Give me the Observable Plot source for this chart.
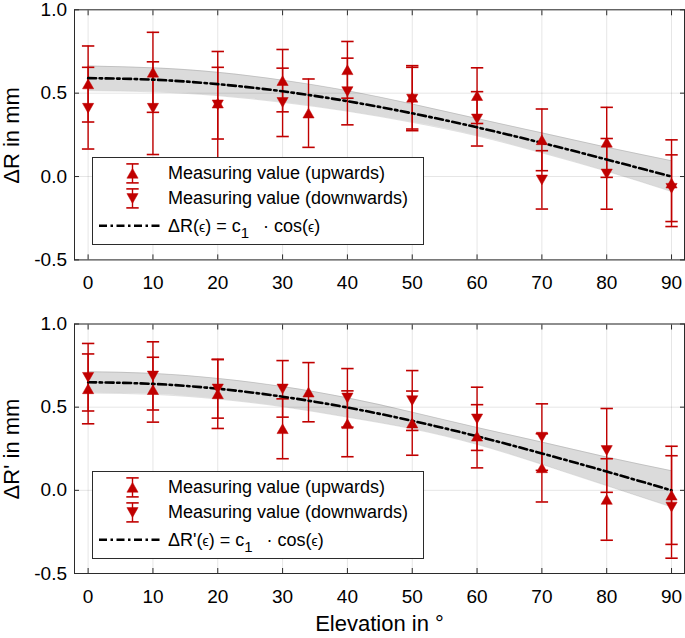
<!DOCTYPE html>
<html>
<head>
<meta charset="utf-8">
<script src="https://cdn.jsdelivr.net/npm/d3@7"></script>
<script src="https://cdn.jsdelivr.net/npm/@observablehq/plot@0.6"></script>
<style>
  body { margin: 0; background: #fff; }
  #chart { position: relative; width: 685px; height: 638px; font-family: "Liberation Sans", Arial, Helvetica, sans-serif; color: #000; }
  #chart > svg { display: block; }
  .legend { position: absolute; background: #fff; border: 1px solid #2b2b2b; box-sizing: border-box; font-size: 18px; }
  .legend .txt { position: absolute; line-height: 20px; white-space: nowrap; }
  .legend svg { position: absolute; left: 0; top: 0; overflow: visible; }
  .eps { font-size: 14px; }
  .sub { font-size: 15px; position: relative; top: 6px; margin-right: 9px; }
  .overlay { position: absolute; left: 0; top: 0; pointer-events: none; }
</style>
</head>
<body>
<div id="chart"></div>
<script>
// ---------- data ----------
const ticksX = [0, 10, 20, 30, 40, 50, 60, 70, 80, 90];
const ticksY = [-0.5, 0, 0.5, 1.0];

const upX   = [0, 10, 20, 30, 34, 40, 50, 60, 70, 80, 90];
const downX = [0, 10, 20, 30, 40, 50, 60, 70, 80, 90];
const fitX  = [0, 10, 20, 30, 40, 50, 60, 70, 80, 90];

// Panel 1: ΔR
const r1UpY     = [0.555, 0.625, 0.44, 0.575, 0.38, 0.64, 0.475, 0.485, 0.22, 0.205, -0.04];
const r1UpErr   = [0.228, 0.24, 0.215, 0.187, 0.205, 0.17, 0.19, 0.167, 0.185, 0.21, 0.26];
const r1DownY   = [0.41, 0.41, 0.43, 0.445, 0.51, 0.465, 0.346, -0.02, 0.016, -0.07];
const r1DownErr = [0.245, 0.278, 0.32, 0.205, 0.2, 0.19, 0.163, 0.175, 0.212, 0.2];
const r1Fit     = [0.59, 0.581, 0.554, 0.511, 0.452, 0.379, 0.295, 0.202, 0.102, 0.0];
const r1BandHi  = [0.663, 0.652, 0.625, 0.578, 0.515, 0.435, 0.348, 0.262, 0.176, 0.095];
const r1BandLo  = [0.515, 0.508, 0.485, 0.445, 0.392, 0.325, 0.244, 0.142, 0.032, -0.09];

// Panel 2: ΔR'
const r2UpY     = [0.61, 0.605, 0.58, 0.37, 0.59, 0.40, 0.404, 0.325, 0.135, -0.055, -0.03];
const r2UpErr   = [0.21, 0.195, 0.208, 0.18, 0.178, 0.198, 0.193, 0.19, 0.205, 0.245, 0.295];
const r2DownY   = [0.68, 0.688, 0.61, 0.61, 0.556, 0.54, 0.43, 0.32, 0.24, -0.1];
const r2DownErr = [0.203, 0.205, 0.176, 0.17, 0.176, 0.18, 0.19, 0.2, 0.252, 0.308];
const r2Fit     = [0.65, 0.640, 0.611, 0.563, 0.498, 0.418, 0.325, 0.222, 0.113, 0.0];
const r2BandHi  = [0.713, 0.703, 0.673, 0.624, 0.556, 0.470, 0.378, 0.290, 0.200, 0.118];
const r2BandLo  = [0.585, 0.577, 0.549, 0.503, 0.44, 0.37, 0.276, 0.156, 0.028, -0.10];

const legendUp = "Measuring value (upwards)";
const legendDown = "Measuring value (downwards)";
const xLabel = "Elevation in °";
const yLabel1 = "ΔR in mm";
const yLabel2 = "ΔR' in mm";

// ---------- styles ----------
const red = "#c00000";
const fontFamily = '"Liberation Sans", Arial, Helvetica, sans-serif';
const dash = "8,3.5,2.5,3.5";

const triUp = { draw(ctx) { ctx.moveTo(0, -5); ctx.lineTo(5.6, 4.8); ctx.lineTo(-5.6, 4.8); ctx.closePath(); } };
const triDown = { draw(ctx) { ctx.moveTo(0, 5); ctx.lineTo(5.6, -4.8); ctx.lineTo(-5.6, -4.8); ctx.closePath(); } };
const cap = { draw(ctx) { ctx.moveTo(-6.2, 0); ctx.lineTo(6.2, 0); } };

function rows(xs, ys, es) { return xs.map((x, i) => ({ x, y: ys[i], e: es[i] })); }

function errorMarks(data) {
  return [
    Plot.ruleX(data, { x: "x", y1: d => d.y - d.e, y2: d => d.y + d.e, stroke: red, strokeWidth: 1.4 }),
    Plot.dot(data, { x: "x", y: d => d.y + d.e, symbol: cap, fill: "none", stroke: red, strokeWidth: 1.6 }),
    Plot.dot(data, { x: "x", y: d => d.y - d.e, symbol: cap, fill: "none", stroke: red, strokeWidth: 1.6 })
  ];
}

function panel({ upY, upErr, downY, downErr, fit, lo, hi, height, marginTop, marginBottom, withXLabel }) {
  const up = rows(upX, upY, upErr);
  const down = rows(downX, downY, downErr);
  const fitRows = fitX.map((x, i) => ({ x, y: fit[i], lo: lo[i], hi: hi[i] }));
  const marks = [
    Plot.gridX(ticksX, { stroke: "#000", strokeOpacity: 0.1 }),
    Plot.gridY(ticksY, { stroke: "#000", strokeOpacity: 0.1 }),
    Plot.areaY(fitRows, { x: "x", y1: "lo", y2: "hi", fill: "#000", fillOpacity: 0.14, curve: "natural" }),
    Plot.lineY(fitRows, { x: "x", y: "hi", stroke: "#000", strokeOpacity: 0.12, strokeWidth: 1, curve: "natural" }),
    Plot.lineY(fitRows, { x: "x", y: "lo", stroke: "#000", strokeOpacity: 0.12, strokeWidth: 1, curve: "natural" }),
    ...errorMarks(up),
    ...errorMarks(down),
    Plot.lineY(fitRows, { x: "x", y: "y", stroke: "#000", strokeWidth: 2.6, strokeDasharray: dash, curve: "natural" }),
    Plot.dot(up, { x: "x", y: "y", symbol: triUp, fill: red, stroke: red, strokeWidth: 0.5 }),
    Plot.dot(down, { x: "x", y: "y", symbol: triDown, fill: red, stroke: red, strokeWidth: 0.5 }),
    Plot.frame({ stroke: "#2b2b2b" }),
    Plot.axisX(ticksX, { anchor: "bottom", tickSize: 0, tickPadding: 15.5, fontSize: 19, label: null, tickFormat: d => String(d) }),
    Plot.axisX(ticksX, { anchor: "bottom", tickSize: -5, tickFormat: () => "", label: null, stroke: "#2b2b2b" }),
    Plot.axisX(ticksX, { anchor: "top", tickSize: -5, tickFormat: () => "", label: null, stroke: "#2b2b2b" }),
    Plot.axisY(ticksY, { anchor: "left", tickSize: 0, tickPadding: 7.5, fontSize: 19, label: null, tickFormat: d => d.toFixed(1) }),
    Plot.axisY(ticksY, { anchor: "left", tickSize: -5, tickFormat: () => "", label: null, stroke: "#2b2b2b" }),
    Plot.axisY(ticksY, { anchor: "right", tickSize: -5, tickFormat: () => "", label: null, stroke: "#2b2b2b" })
  ];
  if (withXLabel) {
    marks.push(Plot.text([xLabel], { frameAnchor: "bottom", dy: 50, fontSize: 22, lineAnchor: "middle", text: d => d }));
  }
  return Plot.plot({
    width: 685,
    height,
    marginLeft: 74,
    marginRight: 1,
    marginTop,
    marginBottom,
    x: { domain: [-2.1, 92] },
    y: { domain: [-0.5, 1.0] },
    style: { fontFamily, fontSize: "19px", background: "#fff", color: "#000", overflow: "visible" },
    marks
  });
}

const chart = document.getElementById("chart");
chart.appendChild(panel({
  upY: r1UpY, upErr: r1UpErr, downY: r1DownY, downErr: r1DownErr,
  fit: r1Fit, lo: r1BandLo, hi: r1BandHi,
  height: 300, marginTop: 9.3, marginBottom: 40.6, withXLabel: false
}));
chart.appendChild(panel({
  upY: r2UpY, upErr: r2UpErr, downY: r2DownY, downErr: r2DownErr,
  fit: r2Fit, lo: r2BandLo, hi: r2BandHi,
  height: 338, marginTop: 23.5, marginBottom: 65, withXLabel: true
}));

// ---------- y axis titles (overlay svg) ----------
const ov = d3.select(chart).append("svg").attr("class", "overlay").attr("width", 40).attr("height", 638);
[[yLabel1, 135.5], [yLabel2, 449]].forEach(([t, cy]) => {
  ov.append("text")
    .attr("transform", `translate(19,${cy}) rotate(-90)`)
    .attr("text-anchor", "middle")
    .attr("font-family", fontFamily)
    .attr("font-size", 22)
    .text(t);
});

// ---------- legends ----------
function legend(top, fitHtml) {
  const box = d3.select(chart).append("div").attr("class", "legend")
    .style("left", "92px").style("top", top + "px")
    .style("width", "332px").style("height", "88px");
  const svg = box.append("svg").attr("width", 330).attr("height", 86);
  const cx = 39.5;
  const centers = [15.4, 40.4];
  const syms = [triUp, triDown];
  centers.forEach((cy, i) => {
    const g = svg.append("g").attr("transform", `translate(${cx},${cy})`);
    g.append("line").attr("y1", -9.5).attr("y2", 9.5).attr("stroke", red).attr("stroke-width", 1.4);
    g.append("line").attr("x1", -6.2).attr("x2", 6.2).attr("y1", -9.5).attr("y2", -9.5).attr("stroke", red).attr("stroke-width", 1.6);
    g.append("line").attr("x1", -6.2).attr("x2", 6.2).attr("y1", 9.5).attr("y2", 9.5).attr("stroke", red).attr("stroke-width", 1.6);
    const p = d3.path(); syms[i].draw(p);
    g.append("path").attr("d", p.toString()).attr("fill", red).attr("stroke", red).attr("stroke-width", 0.5);
  });
  svg.append("line").attr("x1", 6).attr("x2", 69.5).attr("y1", 67.7).attr("y2", 67.7)
    .attr("stroke", "#000").attr("stroke-width", 2.6).attr("stroke-dasharray", dash);
  box.append("div").attr("class", "txt").style("left", "75px").style("top", (15.4 - 10) + "px").text(legendUp);
  box.append("div").attr("class", "txt").style("left", "75px").style("top", (40.4 - 10) + "px").text(legendDown);
  box.append("div").attr("class", "txt").style("left", "75px").style("top", (67.7 - 10) + "px").html(fitHtml);
}
legend(157, 'ΔR(<span class="eps">ϵ</span>) = c<span class="sub">1</span> · cos(<span class="eps">ϵ</span>)');
legend(471, 'ΔR\'(<span class="eps">ϵ</span>) = c<span class="sub">1</span> · cos(<span class="eps">ϵ</span>)');
</script>
</body>
</html>
